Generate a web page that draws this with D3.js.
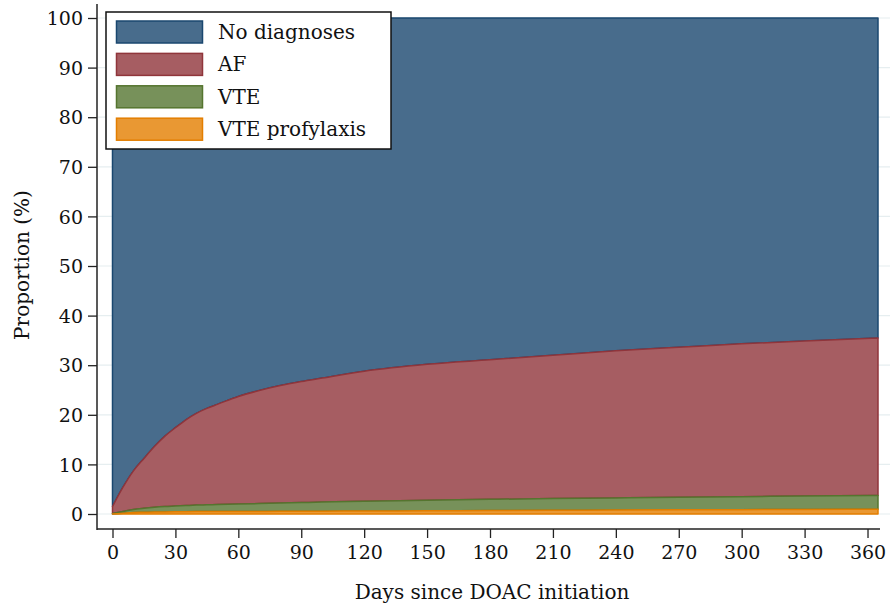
<!DOCTYPE html>
<html><head><meta charset="utf-8">
<script src="https://cdn.jsdelivr.net/npm/d3@7"></script>
<style>html,body{margin:0;padding:0;background:#fff;}svg{display:block;}</style>
</head><body>
<svg id="chart" width="890" height="604"></svg>
<script>
const days = [0,5,10,15,20,25,30,35,40,45,50,60,70,80,90,100,120,150,180,210,240,270,300,330,365];
const vteProfylaxis = [0,0.15,0.3,0.35,0.4,0.42,0.45,0.47,0.48,0.49,0.5,0.5,0.52,0.54,0.55,0.57,0.6,0.65,0.7,0.75,0.8,0.85,0.88,0.92,0.95];
const vte = [0.1,0.35,0.6,0.8,0.95,1.08,1.15,1.23,1.32,1.36,1.4,1.5,1.58,1.66,1.75,1.83,1.95,2.1,2.25,2.35,2.45,2.55,2.62,2.73,2.8];
const af = [1.4,4.9,7.8,10.05,12.25,14.2,15.8,17.3,18.5,19.45,20.2,21.7,22.8,23.7,24.4,25.0,26.25,27.45,28.15,28.9,29.65,30.2,30.8,31.25,31.75];
const noDiagnoses = [98.5,94.6,91.4,88.8,86.4,84.3,82.6,81.0,79.7,78.7,77.9,76.3,75.1,74.1,73.3,72.6,71.2,69.8,68.9,68,67.1,66.4,65.7,65.1,64.5];
const seriesNames = ["VTE profylaxis","VTE","AF","No diagnoses"];
const legendOrder = ["No diagnoses","AF","VTE","VTE profylaxis"];
const xTicks = [0,30,60,90,120,150,180,210,240,270,300,330,360];
const yTicks = [0,10,20,30,40,50,60,70,80,90,100];
const xTitle = "Days since DOAC initiation";
const yTitle = "Proportion (%)";

const fills = {"No diagnoses":"#486c8c","AF":"#a65d62","VTE":"#77915a","VTE profylaxis":"#e99833"};
const strokes = {"No diagnoses":"#1a476f","AF":"#90353b","VTE":"#55752f","VTE profylaxis":"#e37e00"};

const table = days.map((d,i)=>({day:d,"VTE profylaxis":vteProfylaxis[i],"VTE":vte[i],"AF":af[i],"No diagnoses":noDiagnoses[i]}));
const stacked = d3.stack().keys(seriesNames)(table);

const svg = d3.select("#chart");
const font = "'DejaVu Serif', Georgia, serif";
const x = d3.scaleLinear().domain([0,365]).range([112.5,878]);
const y = d3.scaleLinear().domain([0,100]).range([514,18]);

// gridlines
svg.append("g").selectAll("line").data(yTicks).join("line")
  .attr("x1",98).attr("x2",890).attr("y1",d=>y(d)).attr("y2",d=>y(d))
  .attr("stroke","#e6eef0").attr("stroke-width",1.2);

// areas (draw top series first so lower series' outlines sit on top)
const area = d3.area().x(d=>x(d.data.day)).y0(d=>y(d[0])).y1(d=>y(d[1])).curve(d3.curveMonotoneX);
svg.append("g").selectAll("path").data(stacked.slice().reverse()).join("path")
  .attr("d",area)
  .attr("fill",d=>fills[d.key])
  .attr("stroke",d=>strokes[d.key])
  .attr("stroke-width",1.5)
  .attr("stroke-linejoin","round");

// y axis
const yAxis = d3.axisLeft(y).tickValues(yTicks).tickSize(9).tickPadding(5);
const gy = svg.append("g").attr("transform","translate(97,0)").call(yAxis);
gy.select(".domain").attr("d","M0,4V530").attr("stroke","#222").attr("stroke-width",1.5);
gy.selectAll(".tick line").attr("stroke","#222").attr("stroke-width",1.3);
gy.selectAll(".tick text").attr("font-family",font).attr("font-size",19).attr("fill","#111").attr("dy","0.35em");

// x axis
const xAxis = d3.axisBottom(x).tickValues(xTicks).tickSize(9).tickPadding(8);
const gx = svg.append("g").attr("transform","translate(0,529)").call(xAxis);
gx.select(".domain").attr("d","M97,0H880").attr("stroke","#222").attr("stroke-width",1.5);
gx.selectAll(".tick line").attr("stroke","#222").attr("stroke-width",1.3);
gx.selectAll(".tick text").attr("font-family",font).attr("font-size",19).attr("fill","#111");

// titles
svg.append("text").attr("x",492).attr("y",599).attr("text-anchor","middle")
  .attr("font-family",font).attr("font-size",20).attr("fill","#111").text(xTitle);
svg.append("text").attr("transform","translate(29,265) rotate(-90)").attr("text-anchor","middle")
  .attr("font-family",font).attr("font-size",20).attr("fill","#111").text(yTitle);

// legend
const lg = svg.append("g");
lg.append("rect").attr("x",106).attr("y",12).attr("width",285).attr("height",137)
  .attr("fill","#fff").attr("stroke","#111").attr("stroke-width",1.5);
const rows = lg.selectAll("g.row").data(legendOrder).join("g").attr("class","row")
  .attr("transform",(d,i)=>`translate(0,${21+i*32.4})`);
rows.append("rect").attr("x",116.5).attr("y",0).attr("width",86).attr("height",22)
  .attr("fill",d=>fills[d]).attr("stroke",d=>strokes[d]).attr("stroke-width",1.5);
rows.append("text").attr("x",218).attr("y",11).attr("dy","0.35em")
  .attr("font-family",font).attr("font-size",20).attr("fill","#111").text(d=>d);
</script>
</body></html>
